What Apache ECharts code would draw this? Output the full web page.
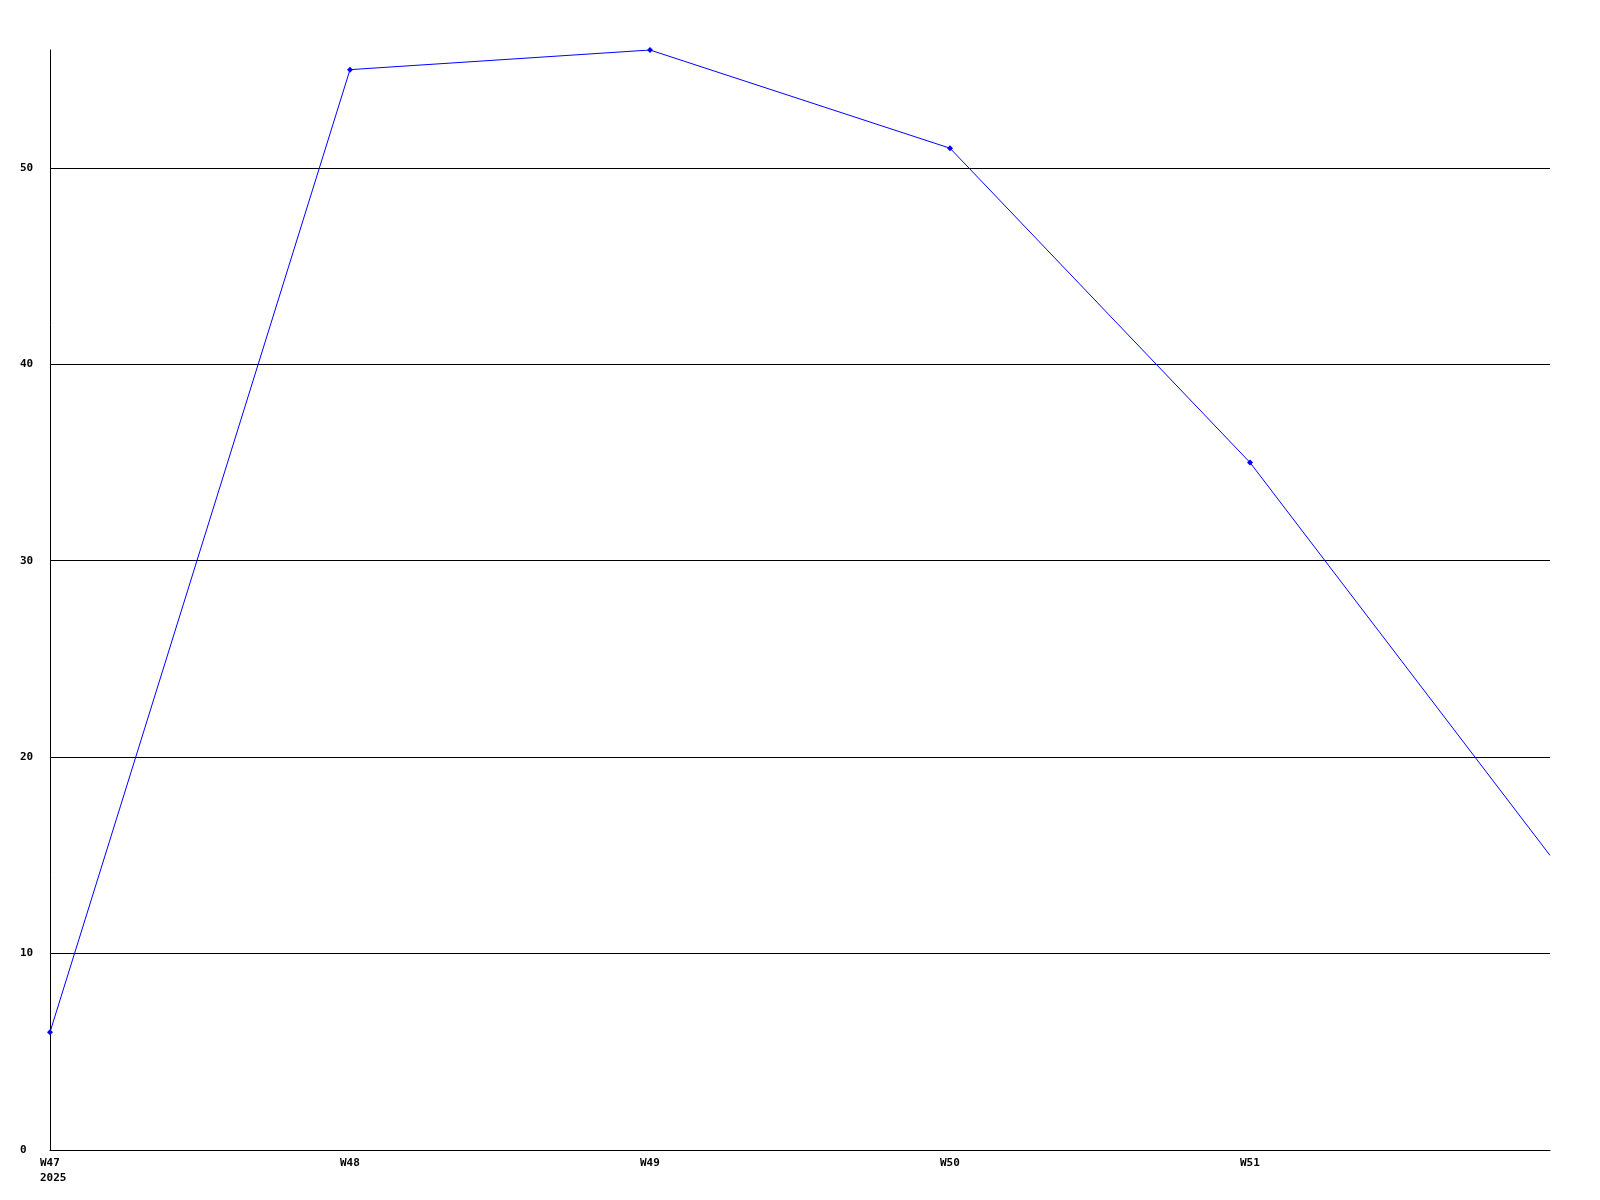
<!DOCTYPE html>
<html><head><meta charset="utf-8">
<script src="https://cdn.jsdelivr.net/npm/echarts@6/dist/echarts.min.js"></script>
<style>html,body{margin:0;padding:0;background:#fff}#c{width:1600px;height:1200px}</style>
</head><body><div id="c"></div>
<script>
const categories = ['W47', 'W48', 'W49', 'W50', 'W51', 'W52'];
const firstYear = '2025';
const values = [6, 55, 56, 51, 35, 15];
const yMin = 0, yMax = 56, yStep = 10;

const font = {fontFamily: 'DejaVu Sans Mono', fontWeight: 'bold', fontSize: 11, color: '#000'};
const chart = echarts.init(document.getElementById('c'));
const lastIdx = categories.length - 1;
chart.setOption({
  animation: false,
  backgroundColor: '#fff',
  grid: {left: 50, right: 50, top: 50, bottom: 50, containLabel: false},
  xAxis: {
    type: 'category', data: categories, boundaryGap: false,
    axisLine: {lineStyle: {color: '#000', width: 1}},
    axisTick: {show: false},
    splitLine: {show: false},
    axisLabel: {
      interval: 0, margin: 6, align: 'center',
      formatter: (v, i) => i === lastIdx ? '' : (i === 0 ? '{a|' + v + '}\n{a|' + firstYear + '}' : '{a|' + v + '}'),
      rich: {a: Object.assign({width: 20, align: 'left', lineHeight: 15}, font)}
    }
  },
  yAxis: {
    type: 'value', min: yMin, max: yMax, interval: yStep,
    axisLine: {show: true, lineStyle: {color: '#000', width: 1}},
    axisTick: {show: false},
    splitLine: {show: true, lineStyle: {color: ['#000', '#000', '#000', '#000', '#000', '#000', 'rgba(0,0,0,0)'], width: 1}},
    axisLabel: Object.assign({align: 'left', margin: 30, showMaxLabel: false,
      formatter: v => (v % yStep === 0 ? String(v) : '')}, font)
  },
  series: [{
    type: 'line', data: values,
    lineStyle: {color: '#0000ff', width: 1},
    itemStyle: {color: '#0000ff'},
    symbol: (v, p) => p.dataIndex === lastIdx ? 'none' : 'diamond',
    symbolSize: 6,
    showAllSymbol: true
  }]
});
</script></body></html>
